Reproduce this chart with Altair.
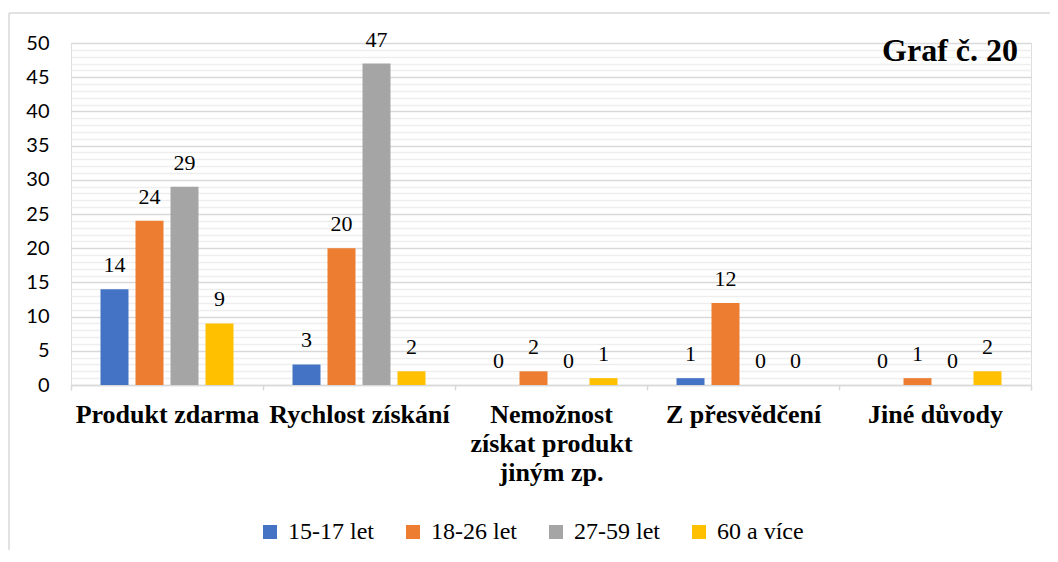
import altair as alt
import pandas as pd

categories = ["Produkt zdarma", "Rychlost získání", "Nemožnost získat produkt jiným zp.",
              "Z přesvědčení", "Jiné důvody"]
series = ["15-17 let", "18-26 let", "27-59 let", "60 a více"]
v_15_17 = [14, 3, 0, 1, 0]
v_18_26 = [24, 20, 2, 12, 1]
v_27_59 = [29, 47, 0, 0, 0]
v_60 = [9, 2, 1, 0, 2]
colors = ["#4472C4", "#ED7D31", "#A5A5A5", "#FFC000"]
chart_title = "Graf č. 20"

rows = []
for s, vals in zip(series, [v_15_17, v_18_26, v_27_59, v_60]):
    for c, v in zip(categories, vals):
        rows.append({"kategorie": c, "skupina": s, "pocet": v})
df = pd.DataFrame(rows)

W, H = 960, 342
SERIF = "Liberation Serif"
SANS = "Lato"

label_expr = ("datum.label == 'Nemožnost získat produkt jiným zp.' ? "
              "['Nemožnost', 'získat produkt', 'jiným zp.'] : datum.label")

x_axis = alt.Axis(title=None, labelAngle=0, labelFont=SERIF,
                  labelFontSize=26, labelFontWeight="bold", labelColor="#000000",
                  labelLimit=400, labelPadding=11, labelLineHeight=29,
                  labelExpr=label_expr, tickBand="extent", tickSize=5,
                  tickColor="#d9d9d9", domainColor="#d9d9d9", domainWidth=1.5,
                  tickWidth=1.5, grid=False, labelOverlap=False)
y_axis = alt.Axis(title=None, values=list(range(0, 51)),
                  labelExpr="datum.value % 5 === 0 ? datum.label : ''",
                  labelOverlap=False,
                  labelFont=SANS, labelFontSize=20, labelColor="#000000",
                  labelPadding=22, ticks=False, domain=False,
                  gridColor=alt.condition("datum.value % 5 === 0",
                                          alt.value("#d9d9d9"), alt.value("#eeeeee")),
                  gridWidth=1.5)
x_scale = alt.Scale(paddingInner=0, paddingOuter=0)
xo_scale = alt.Scale(paddingInner=0.2, paddingOuter=0.843)
y_scale = alt.Scale(domain=[0, 50], nice=False)

bars = alt.Chart(df).mark_bar().encode(
    x=alt.X("kategorie:N", sort=categories, scale=x_scale, axis=x_axis),
    xOffset=alt.XOffset("skupina:N", sort=series, scale=xo_scale),
    y=alt.Y("pocet:Q", scale=y_scale, axis=y_axis),
    color=alt.Color("skupina:N", sort=series,
                    scale=alt.Scale(domain=series, range=colors),
                    legend=alt.Legend(title=None, orient="none", direction="horizontal",
                                      legendX=187, legendY=477, symbolType="square",
                                      symbolSize=196, symbolStrokeWidth=0,
                                      labelFont=SERIF, labelFontSize=24,
                                      labelColor="#000000", columnPadding=27,
                                      labelOffset=6, labelLimit=300))
)

labels = alt.Chart(df).mark_text(baseline="alphabetic", dy=-17, font=SERIF,
                                 fontSize=22, color="#000000").encode(
    x=alt.X("kategorie:N", sort=categories, scale=x_scale, axis=x_axis),
    xOffset=alt.XOffset("skupina:N", sort=series, scale=xo_scale),
    y=alt.Y("pocet:Q", scale=y_scale, axis=y_axis), text="pocet:Q"
)

title_df = pd.DataFrame({"t": [chart_title]})
title = alt.Chart(title_df).mark_text(align="right", baseline="alphabetic",
                                      font=SERIF, fontSize=32,
                                      fontWeight="bold", color="#000000").encode(
    x=alt.value(947), y=alt.value(18), text="t:N")

one = pd.DataFrame({"a": [0]})
border_left = alt.Chart(one).mark_rule(color="#d9d9d9", strokeWidth=1.5).encode(
    x=alt.value(-62), y=alt.value(-30), y2=alt.value(600))
border_top = alt.Chart(one).mark_rule(color="#d9d9d9", strokeWidth=1.5).encode(
    x=alt.value(-62), x2=alt.value(1100), y=alt.value(-30))

chart = alt.layer(bars, labels, title, border_left, border_top).properties(
    width=W, height=H,
    autosize=alt.AutoSizeParams(type="none"),
    padding={"left": 63, "top": 35, "right": 19, "bottom": 165},
).configure_view(strokeWidth=0).configure(background="#ffffff")

chart.save("out.html", embed_options={"renderer": "svg", "actions": False})
